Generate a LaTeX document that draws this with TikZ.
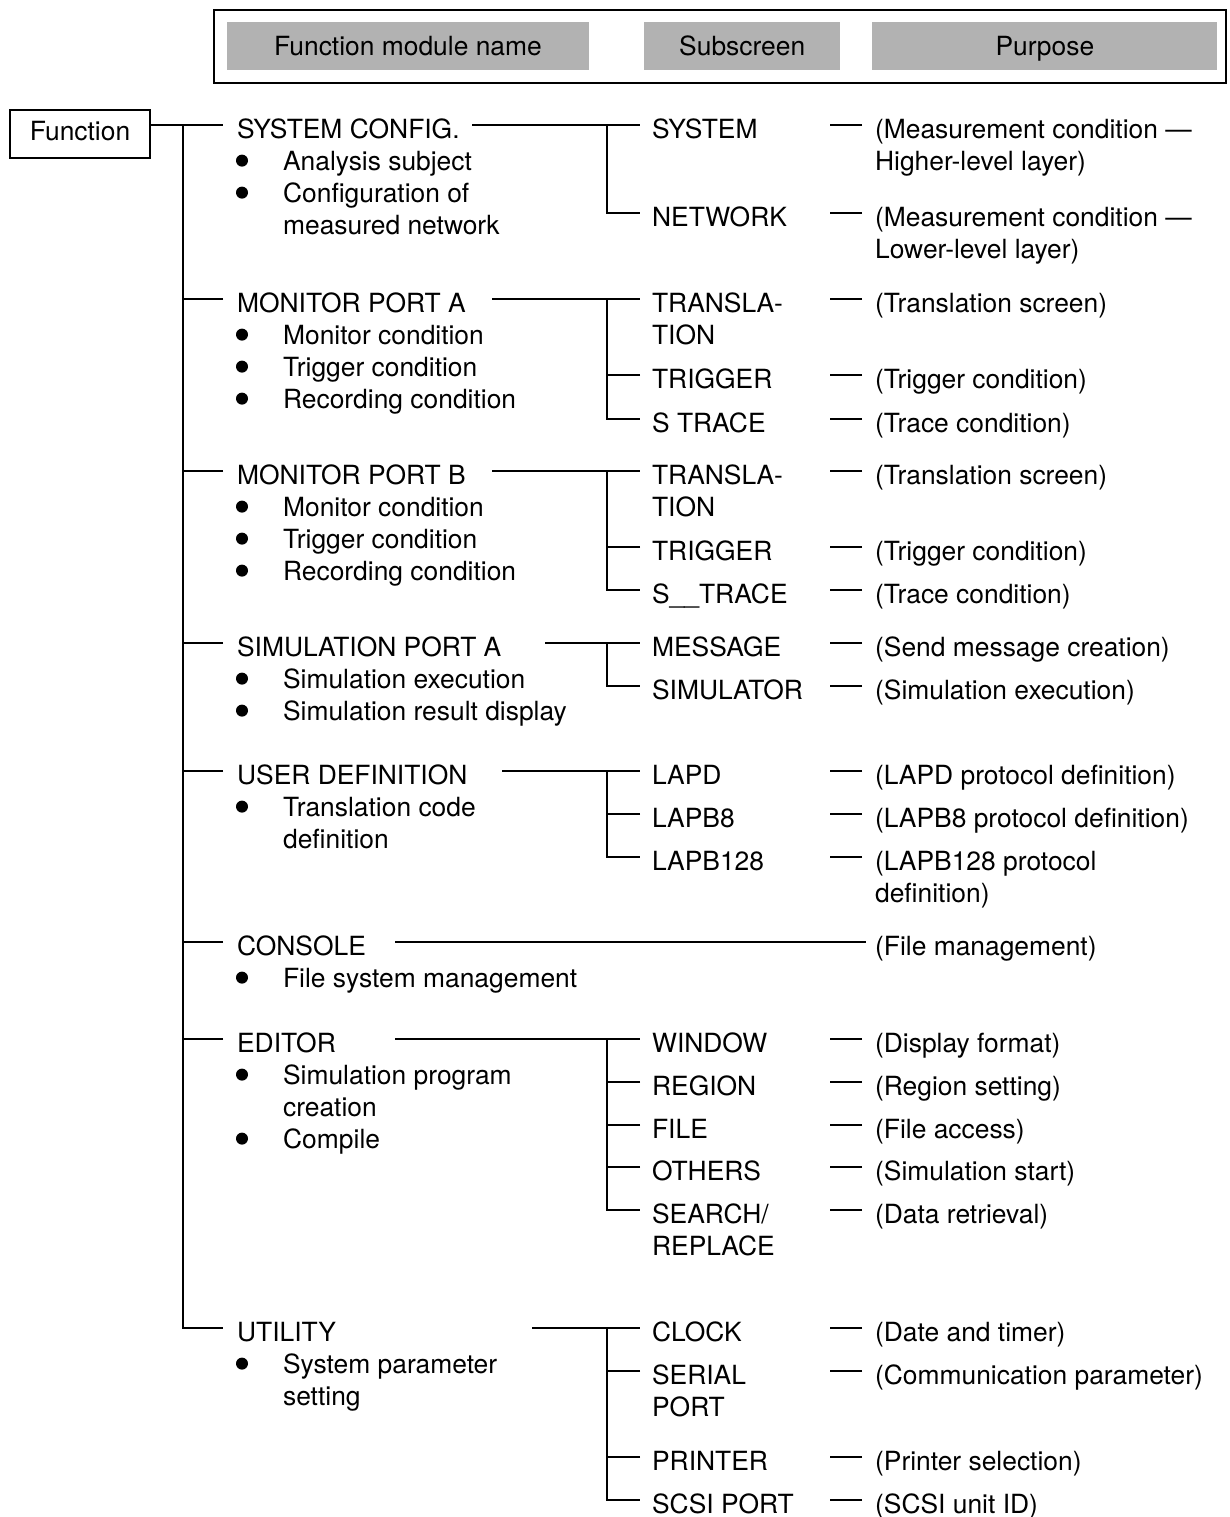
\documentclass[tikz,border=0pt]{standalone}
\usepackage{fontspec}
\setmainfont{TeX Gyre Heros}
\usetikzlibrary{positioning}
\tikzstyle{txt}=[anchor=base west, inner sep=0pt,
        font=\fontsize{13.2}{16}\selectfont]
\tikzstyle{fbox}=[draw, line width=1.1pt, inner sep=0pt, minimum width=70pt,
        minimum height=24pt, text height=9.5pt, text depth=2.8pt,
        font=\fontsize{13.2}{16}\selectfont]
\tikzstyle{hd}=[fill=black!30, inner sep=0pt, minimum height=24pt,
        text height=11pt, text depth=1.5pt,
        font=\fontsize{13.2}{16}\selectfont]
% two lines, baseline on the first one
\newcommand{\twoline}[2]{\begin{tabular}[t]{@{}l@{}}#1\\#2\end{tabular}}
\begin{document}
\begin{tikzpicture}[x=0.5pt, y=-0.5pt, line width=1.1pt]
        \useasboundingbox (0,0) rectangle (1230,1517);

        % header
        \draw[line width=1.3pt] (214,10) rectangle (1226,83);
        \node[hd, minimum width=181pt] (h1) at (408,46) {Function module name};
        \node[hd, minimum width=98pt, right=26.5pt of h1] (h2) {Subscreen};
        \node[hd, minimum width=172.5pt, right=15pt of h2] (h3) {Purpose};

        \node[fbox] (fn) at (80,134) {Function};

        % SYSTEM CONFIG.
        \node[txt] (m1) at (236,138) {SYSTEM CONFIG.};
        \node[txt] (i11) at (282,170) {Analysis subject};
        \node[txt] (i12) at (282,202) {\twoline{Configuration of}{measured network}};
        \node[txt] (s11) at (651,138) {SYSTEM};
        \node[txt] (s12) at (651,226) {NETWORK};
        \node[txt] (p11) at (874,138) {\twoline{(Measurement condition ---}{Higher-level layer)}};
        \node[txt] (p12) at (874,226) {\twoline{(Measurement condition ---}{Lower-level layer)}};

        % MONITOR PORT A
        \node[txt] (m2) at (236,312) {MONITOR PORT A};
        \node[txt] (i21) at (282,344) {Monitor condition};
        \node[txt] (i22) at (282,376) {Trigger condition};
        \node[txt] (i23) at (282,408) {Recording condition};
        \node[txt] (s21) at (651,312) {\twoline{TRANSLA-}{TION}};
        \node[txt] (s22) at (651,388) {TRIGGER};
        \node[txt] (s23) at (651,432) {S TRACE};
        \node[txt] (p21) at (874,312) {(Translation screen)};
        \node[txt] (p22) at (874,388) {(Trigger condition)};
        \node[txt] (p23) at (874,432) {(Trace condition)};

        % MONITOR PORT B
        \node[txt] (m3) at (236,484) {MONITOR PORT B};
        \node[txt] (i31) at (282,516) {Monitor condition};
        \node[txt] (i32) at (282,548) {Trigger condition};
        \node[txt] (i33) at (282,580) {Recording condition};
        \node[txt] (s31) at (651,484) {\twoline{TRANSLA-}{TION}};
        \node[txt] (s32) at (651,560) {TRIGGER};
        \node[txt] (s33) at (651,603) {S\_\_TRACE};
        \node[txt] (p31) at (874,484) {(Translation screen)};
        \node[txt] (p32) at (874,560) {(Trigger condition)};
        \node[txt] (p33) at (874,603) {(Trace condition)};

        % SIMULATION PORT A
        \node[txt] (m4) at (236,656) {SIMULATION PORT A};
        \node[txt] (i41) at (282,688) {Simulation execution};
        \node[txt] (i42) at (282,720) {Simulation result display};
        \node[txt] (s41) at (651,656) {MESSAGE};
        \node[txt] (s42) at (651,699) {SIMULATOR};
        \node[txt] (p41) at (874,656) {(Send message creation)};
        \node[txt] (p42) at (874,699) {(Simulation execution)};

        % USER DEFINITION
        \node[txt] (m5) at (236,784) {USER DEFINITION};
        \node[txt] (i51) at (282,816) {\twoline{Translation code}{definition}};
        \node[txt] (s51) at (651,784) {LAPD};
        \node[txt] (s52) at (651,827) {LAPB8};
        \node[txt] (s53) at (651,870) {LAPB128};
        \node[txt] (p51) at (874,784) {(LAPD protocol definition)};
        \node[txt] (p52) at (874,827) {(LAPB8 protocol definition)};
        \node[txt] (p53) at (874,870) {\twoline{(LAPB128 protocol}{definition)}};

        % CONSOLE
        \node[txt] (m6) at (236,955) {CONSOLE};
        \node[txt] (i61) at (282,987) {File system management};
        \node[txt] (p61) at (874,955) {(File management)};

        % EDITOR
        \node[txt] (m7) at (236,1052) {EDITOR};
        \node[txt] (i71) at (282,1084) {\twoline{Simulation program}{creation}};
        \node[txt] (i72) at (282,1148) {Compile};
        \node[txt] (s71) at (651,1052) {WINDOW};
        \node[txt] (s72) at (651,1095) {REGION};
        \node[txt] (s73) at (651,1138) {FILE};
        \node[txt] (s74) at (651,1180) {OTHERS};
        \node[txt] (s75) at (651,1223) {\twoline{SEARCH/}{REPLACE}};
        \node[txt] (p71) at (874,1052) {(Display format)};
        \node[txt] (p72) at (874,1095) {(Region setting)};
        \node[txt] (p73) at (874,1138) {(File access)};
        \node[txt] (p74) at (874,1180) {(Simulation start)};
        \node[txt] (p75) at (874,1223) {(Data retrieval)};

        % UTILITY
        \node[txt] (m8) at (236,1341) {UTILITY};
        \node[txt] (i81) at (282,1373) {\twoline{System parameter}{setting}};
        \node[txt] (s81) at (651,1341) {CLOCK};
        \node[txt] (s82) at (651,1384) {\twoline{SERIAL}{PORT}};
        \node[txt] (s83) at (651,1470) {PRINTER};
        \node[txt] (s84) at (651,1513) {SCSI PORT};
        \node[txt] (p81) at (874,1341) {(Date and timer)};
        \node[txt] (p82) at (874,1384) {(Communication parameter)};
        \node[txt] (p83) at (874,1470) {(Printer selection)};
        \node[txt] (p84) at (874,1513) {(SCSI unit ID)};

        % bullets
        \foreach \i in {i11,i12,i21,i22,i23,i31,i32,i33,i41,i42,i51,i61,i71,i72,i81}
            \fill ([xshift=-20pt, yshift=4.7pt]\i.base west) circle (3pt);

        % line height of every row
        \foreach \n in {m1,m2,m3,m4,m5,m6,m7,m8,s11,s12,s21,s22,s23,s31,s32,s33,
                s41,s42,s51,s52,s53,s71,s72,s73,s74,s75,s81,s82,s83,s84,
                p11,p12,p21,p22,p23,p31,p32,p33,p41,p42,p51,p52,p53,p61,
                p71,p72,p73,p74,p75,p81,p82,p83,p84}
            \coordinate (\n-l) at ([yshift=6.5pt]\n.base west);

        % main spine
        \coordinate (sp) at ([xshift=16pt, yshift=4.5pt]fn.east);
        \draw ([yshift=4.5pt]fn.east) -- ([xshift=-6.5pt]m1-l);
        \draw (sp) |- ([xshift=-6.5pt]m8-l);
        \foreach \m in {m2,m3,m4,m5,m6,m7}
            \draw ([xshift=-6.5pt]\m-l) -- ++(-20.5pt,0);

        % module to subscreen
        \draw ([xshift=118pt]m1-l) -- ([xshift=-5.5pt]s11-l);
        \draw ([xshift=128pt]m2-l) -- ([xshift=-5.5pt]s21-l);
        \draw ([xshift=128pt]m3-l) -- ([xshift=-5.5pt]s31-l);
        \draw ([xshift=154.5pt]m4-l) -- ([xshift=-5.5pt]s41-l);
        \draw ([xshift=133pt]m5-l) -- ([xshift=-5.5pt]s51-l);
        \draw ([xshift=79.5pt]m6-l) -- ([xshift=-4pt]p61-l);
        \draw ([xshift=79.5pt]m7-l) -- ([xshift=-5.5pt]s71-l);
        \draw ([xshift=148pt]m8-l) -- ([xshift=-5.5pt]s81-l);

        % subscreen spines
        \draw ([xshift=-22pt]s11-l) |- ([xshift=-5.5pt]s12-l);
        \draw ([xshift=-22pt]s21-l) |- ([xshift=-5.5pt]s23-l);
        \draw ([xshift=-22pt]s31-l) |- ([xshift=-5.5pt]s33-l);
        \draw ([xshift=-22pt]s41-l) |- ([xshift=-5.5pt]s42-l);
        \draw ([xshift=-22pt]s51-l) |- ([xshift=-5.5pt]s53-l);
        \draw ([xshift=-22pt]s71-l) |- ([xshift=-5.5pt]s75-l);
        \draw ([xshift=-22pt]s81-l) |- ([xshift=-5.5pt]s84-l);
        \foreach \s in {s22,s32,s52,s72,s73,s74,s82,s83}
            \draw ([xshift=-5.5pt]\s-l) -- ++(-16.5pt,0);

        % purpose dashes
        \foreach \p in {p11,p12,p21,p22,p23,p31,p32,p33,p41,p42,p51,p52,p53,
                p71,p72,p73,p74,p75,p81,p82,p83,p84}
            \draw ([xshift=-6pt]\p-l) -- ++(-16pt,0);
\end{tikzpicture}
\end{document}
